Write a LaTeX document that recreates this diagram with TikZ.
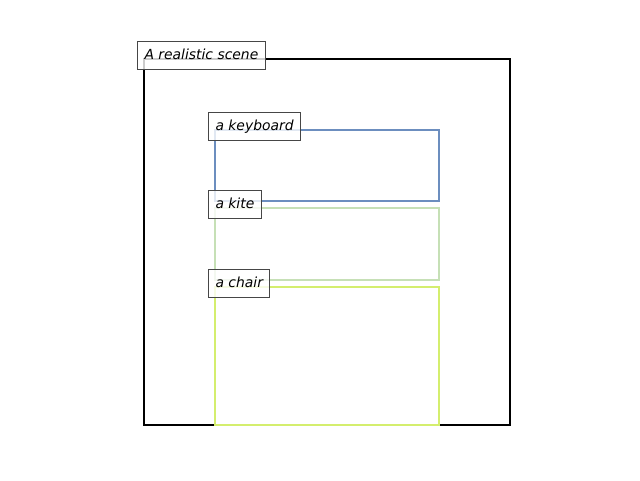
\documentclass[tikz,border=0pt]{standalone}
\usepackage{fontspec}
\setmainfont{DejaVu Sans}
\usepackage{xcolor}
\usetikzlibrary{positioning}
\definecolor{kbblue}{RGB}{108, 142, 191}
\definecolor{kitegreen}{RGB}{198, 224, 182}
\definecolor{chairlime}{RGB}{212, 238, 110}
\definecolor{tagedge}{RGB}{70, 70, 70}

\begin{document}
\begin{tikzpicture}[
  x=1pt, y=-1pt,
  frame/.style={line width=2pt, draw=#1},
  tag/.style={anchor=base west, draw=tagedge, fill=white, fill opacity=0.8,
              text opacity=1, line width=1pt,
              font=\fontsize{13.9}{16}\selectfont\itshape,
              inner xsep=7pt, inner ysep=7pt, text height=10.5pt, text depth=3pt}
]
  \useasboundingbox (0,0) rectangle (640,480);

  %% Scene and object boxes
  \coordinate (scene) at (144,59);
  \coordinate (keyboard) at (215,130);
  \coordinate (kite) at (215,208);
  \coordinate (chair) at (215,287);

  \draw[frame=black] (scene) rectangle (510,425);
  \draw[frame=kbblue] (keyboard) rectangle (439,201);
  \draw[frame=kitegreen] (kite) rectangle (439,280);
  \draw[frame=chairlime] (chair) rectangle (439,425);

  %% Labels
  \node[tag, xshift=-7pt] (scenetag) at (scene) {A realistic scene};
  \node[tag, xshift=-7pt] (kbtag) at (keyboard) {a keyboard};
  \node[tag, xshift=-7pt] (kitetag) at (kite) {a kite};
  \node[tag, xshift=-7pt] (chairtag) at (chair) {a chair};
\end{tikzpicture}
\end{document}
